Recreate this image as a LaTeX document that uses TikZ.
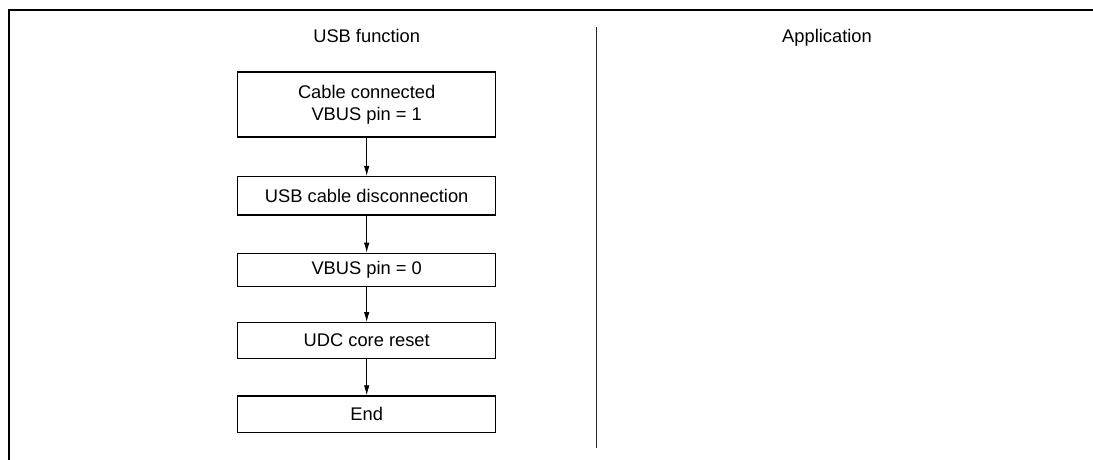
\documentclass[tikz,border=0pt]{standalone}
\usepackage{fontspec}
\setmainfont{Liberation Sans}
\usetikzlibrary{arrows.meta}
\begin{document}
\begin{tikzpicture}[x=1pt,y=-1pt,
  every node/.style={font=\fontsize{18.3}{22}\selectfont, inner sep=0pt},
  stepbox/.style={draw, line width=1.4pt, minimum width=258pt, align=center},
  flow/.style={line width=0.8pt, -{Latex[length=10pt,width=5.5pt]}}]
\useasboundingbox (0,0) rectangle (1093,460);
% frame
\draw[line width=2pt] (9,460) -- (9,10) -- (1093,10);
% divider
\draw[line width=1pt, black!85] (596.5,27) -- (596.5,448);
% headings
\node[anchor=base] (h1) at (366.7,43) {USB function};
\node[anchor=base] (h2) at (827,43) {Application};
% boxes
\node[stepbox, minimum height=65pt] (b1) at (366.7,104.5) {Cable connected\\VBUS pin = 1};
\node[stepbox, minimum height=38.3pt] (b2) at (366.7,195.8) {USB cable disconnection};
\node[stepbox, minimum height=33.4pt] (b3) at (366.7,270) {VBUS pin = 0};
\node[stepbox, minimum height=35.6pt] (b4) at (366.7,340.5) {UDC core reset};
\node[stepbox, minimum height=36.7pt] (b5) at (366.7,414.3) {End};
% arrows
\draw[flow] (b1) -- (b2);
\draw[flow] (b2) -- (b3);
\draw[flow] (b3) -- (b4);
\draw[flow] (b4) -- (b5);
\end{tikzpicture}
\end{document}
